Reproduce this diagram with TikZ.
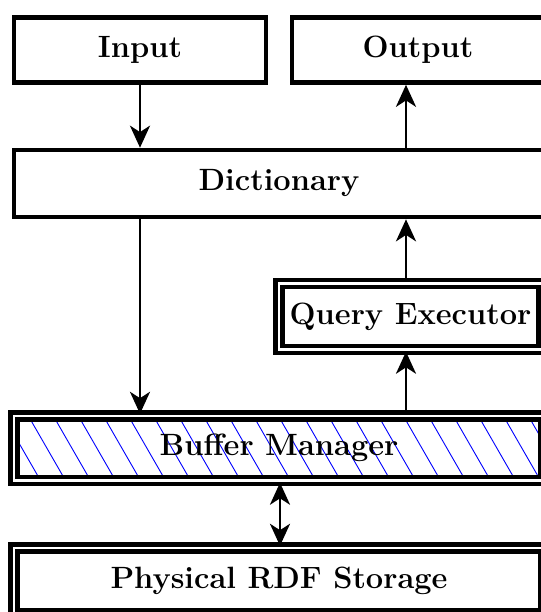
\documentclass[tikz,border=0pt]{standalone}
\usetikzlibrary{arrows.meta,backgrounds}
\begin{document}
\begin{tikzpicture}[x=0.5pt,y=-0.5pt,
  lbl/.style={font=\fontsize{15.4}{18}\selectfont\bfseries, inner sep=0pt},
  box/.style={lbl, draw, line width=2.3pt},
  dbox/.style={lbl, draw, line width=2.2pt, double, double distance=1.3pt},
  tip/.tip={Stealth[length=11pt,width=10pt,inset=3.2pt]},
  arr/.style={-tip, line width=1.45pt},
  darr/.style={tip-tip, line width=1.45pt},
  hatch/.style={blue, line width=0.45pt}]
\useasboundingbox (0,0) rectangle (541,612);
\clip (0,0) rectangle (541,612);
\coordinate (colL) at (140,0);
\coordinate (colM) at (280,0);
\coordinate (colR) at (406,0);
\node[box, minimum width=126pt, minimum height=32.5pt] (input) at (140,50) {Input};
\node[box, minimum width=126pt, minimum height=32.5pt] (output) at (418,50) {Output};
\node[box, minimum width=265pt, minimum height=33.5pt] (dict) at (279,183.5) {Dictionary};
\node[dbox, minimum width=131.5pt, minimum height=33pt] (qe) at (410.5,316.5) {Query Executor};
\node[dbox, minimum width=265pt, minimum height=32.25pt] (bm) at (279,448.25) {Buffer Manager};
\node[dbox, minimum width=265pt, minimum height=33pt] (prs) at (279,581) {Physical RDF Storage};
\begin{scope}[on background layer]
  \clip (bm.south west) rectangle (bm.north east);
  \foreach \k in {0,...,25}
    \draw[hatch] ({-46.6+25*\k},416) -- ({-9.2+25*\k},481);
\end{scope}
\draw[arr] (input.south -| colL) -- (dict.north -| colL);
\draw[arr] (dict.north -| colR) -- (output.south -| colR);
\draw[arr] (qe.north -| colR) -- (dict.south -| colR);
\draw[arr] (bm.north -| colR) -- (qe.south -| colR);
\draw[arr] (dict.south -| colL) -- (bm.north -| colL);
\draw[darr] (bm.south -| colM) -- (prs.north -| colM);
\end{tikzpicture}
\end{document}
